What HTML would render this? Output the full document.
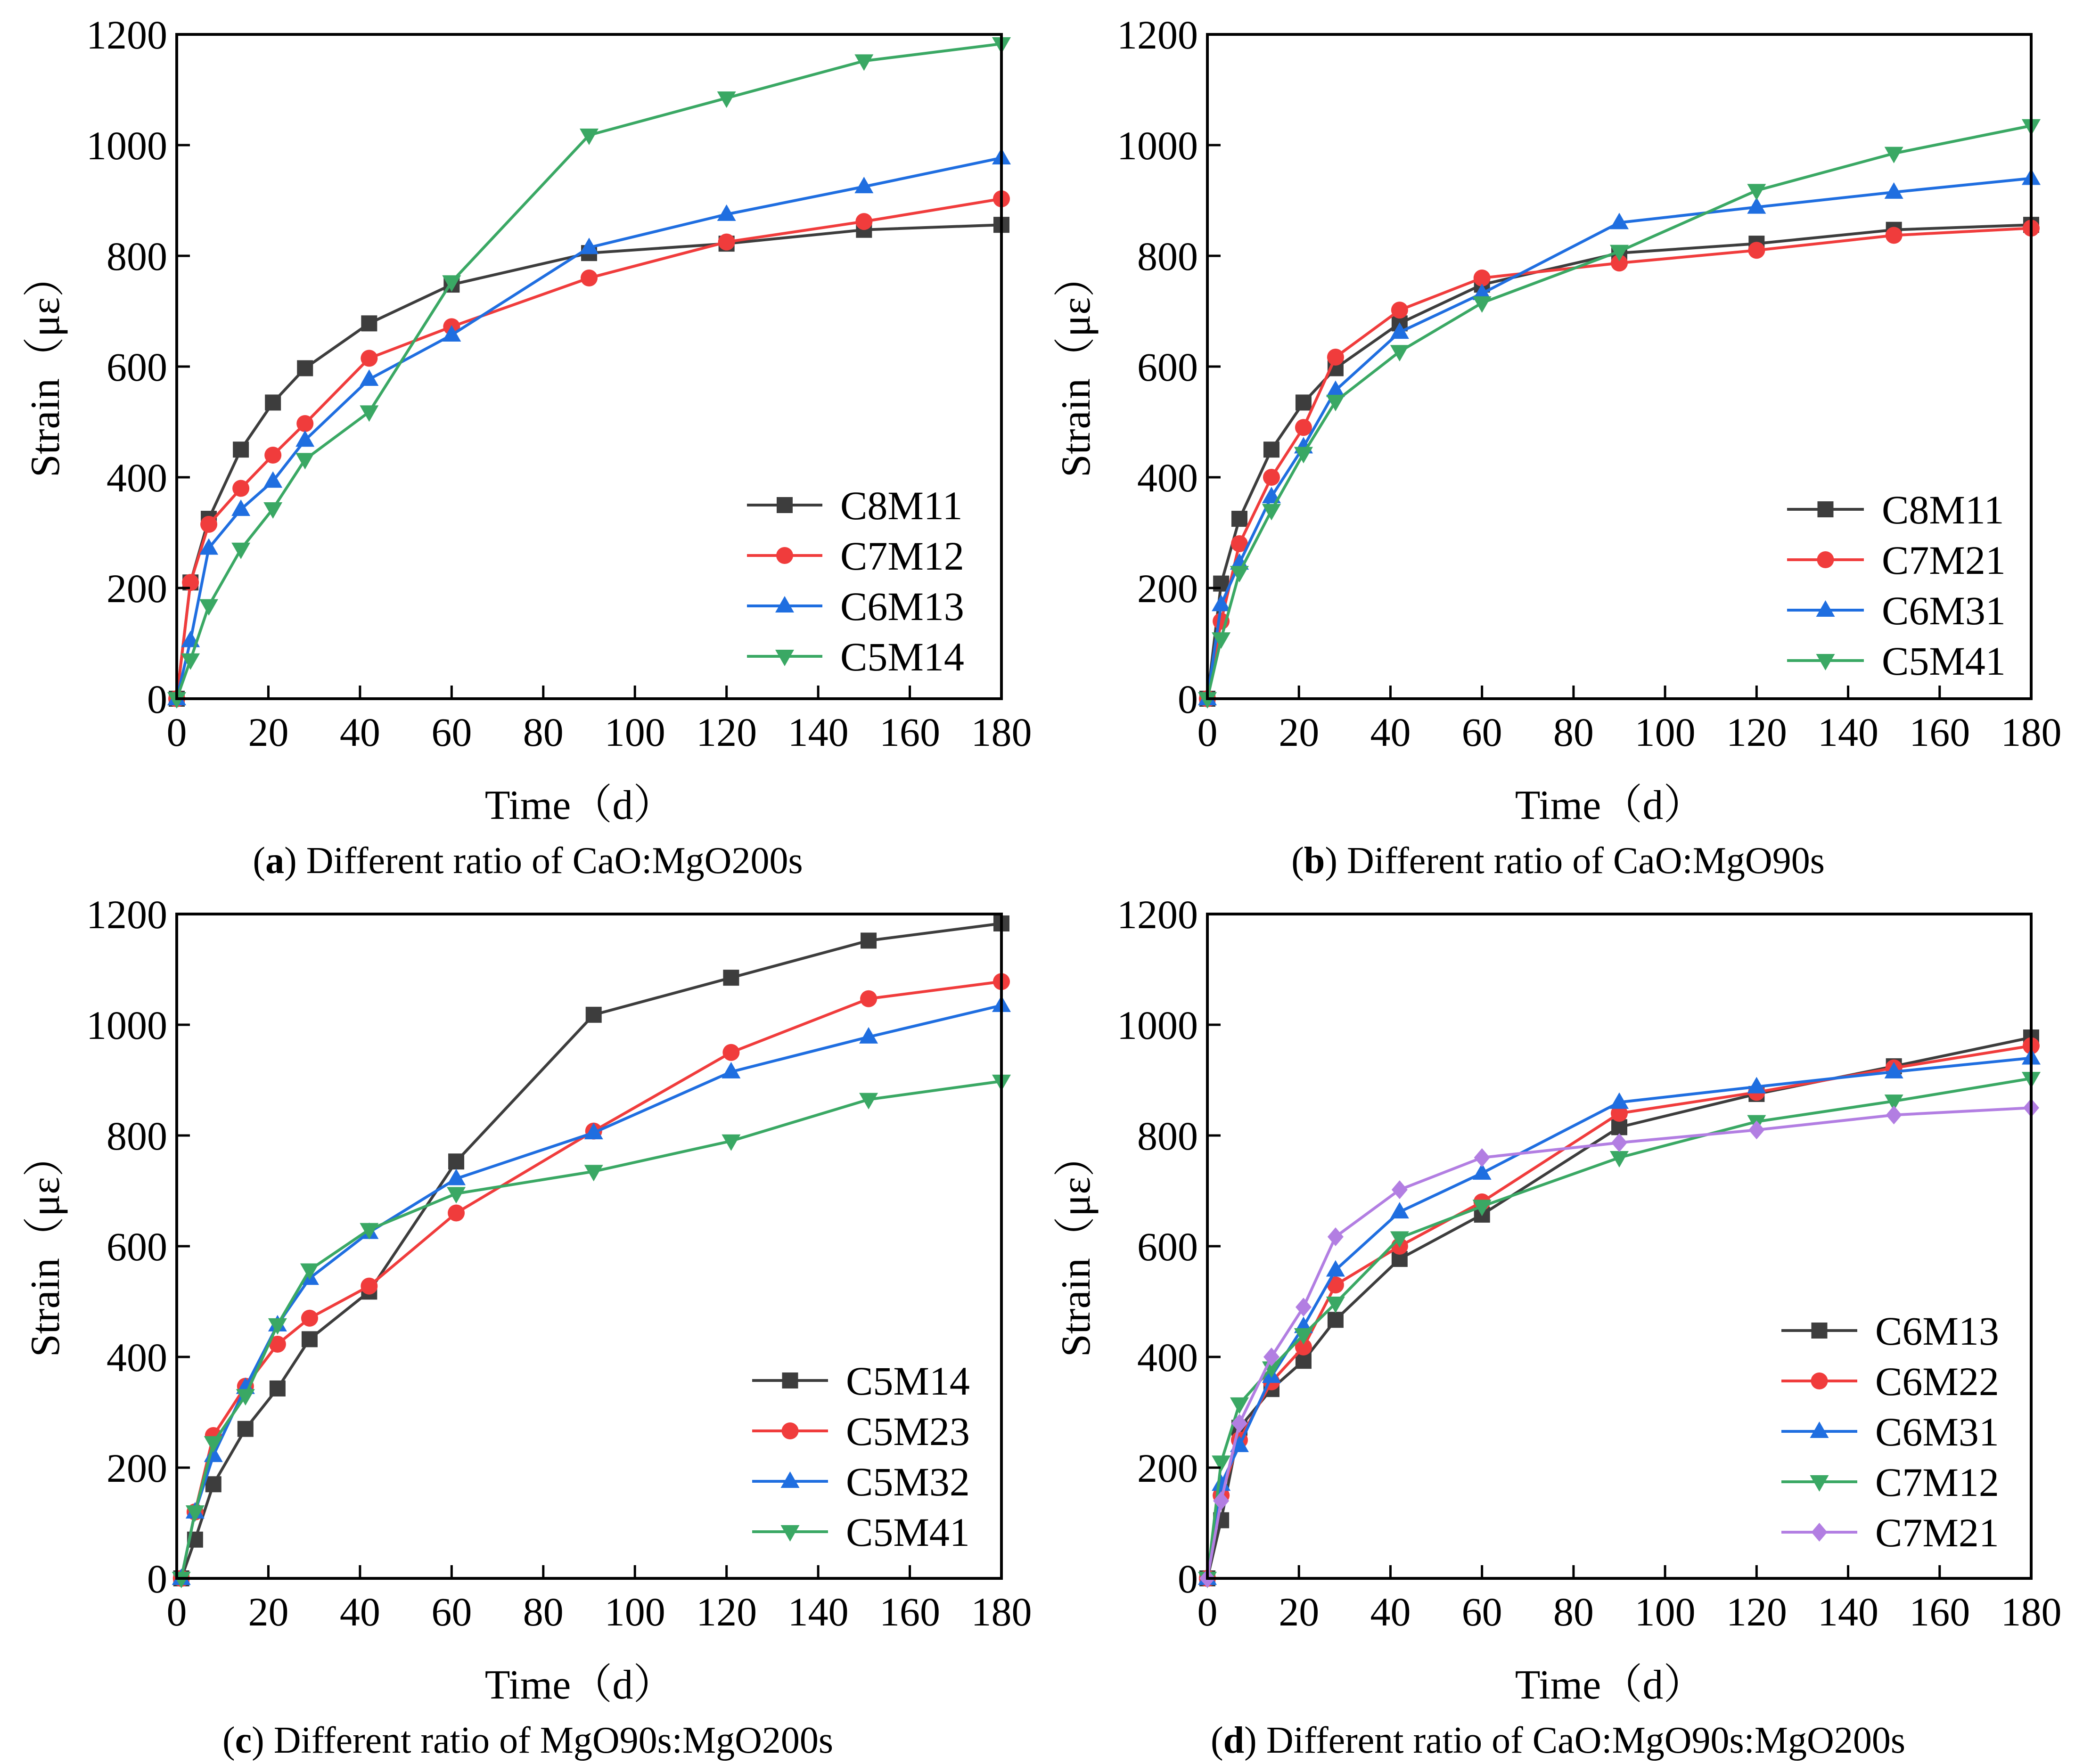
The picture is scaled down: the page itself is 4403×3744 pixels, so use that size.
<!DOCTYPE html>
<html><head><meta charset="utf-8">
<style>
html,body{margin:0;padding:0;background:#fff;}
svg{display:block;}
text{font-family:"Liberation Serif","Times New Roman","Noto Serif CJK SC",serif;}
</style></head>
<body>
<svg id="fig" width="4403" height="3744" viewBox="0 0 4403 3744" xmlns="http://www.w3.org/2000/svg"></svg>
<script>
const days = [0,3,7,14,21,28,42,60,90,120,150,180];
const daysC = [1,4,8,15,22,29,42,61,91,121,151,180];
const xTicks = [0,20,40,60,80,100,120,140,160,180];
const yTicks = [0,200,400,600,800,1000,1200];

const aC8M11 = [0,210,325,450,535,597,678,748,805,822,847,856];
const aC7M12 = [0,210,315,380,440,497,615,672,760,825,862,903];
const aC6M13 = [0,105,272,342,393,467,577,657,815,875,925,977];
const aC5M14 = [0,70,168,270,343,432,518,753,1018,1085,1152,1183];

const bC8M11 = [0,208,325,450,535,597,678,748,805,822,847,856];
const bC7M21 = [0,140,280,400,490,617,702,760,787,810,837,850];
const bC6M31 = [0,170,245,365,455,557,662,732,860,888,915,940];
const bC5M41 = [0,108,228,340,443,537,627,715,808,918,985,1035];

const cC5M14 = [0,70,170,270,343,432,518,753,1018,1085,1152,1183];
const cC5M23 = [0,120,258,347,423,470,528,660,808,950,1047,1078];
const cC5M32 = [0,120,222,345,458,542,625,722,805,915,978,1035];
const cC5M41 = [0,120,245,330,458,557,630,695,735,790,865,898];

const dC6M13 = [0,105,272,342,393,467,577,657,815,875,925,977];
const dC6M22 = [0,150,250,355,418,530,600,680,840,878,922,962];
const dC6M31 = [0,170,240,365,455,557,662,732,860,888,915,940];
const dC7M12 = [0,210,315,380,440,497,615,672,760,825,862,903];
const dC7M21 = [0,140,280,400,490,617,702,760,787,810,837,850];

const COL = {k:'#3d3d3d', r:'#f03c3c', b:'#1f6ee0', g:'#3aa864', p:'#b27ee2'};
const FF = '"Liberation Serif","Noto Serif CJK SC",serif';
const NS = 'http://www.w3.org/2000/svg';
const svg = document.getElementById('fig');
function mk(tag, attrs, parent){
  const e = document.createElementNS(NS, tag);
  for (const k in attrs) e.setAttribute(k, attrs[k]);
  if (tag==='text') e.setAttribute('font-family', FF);
  (parent||svg).appendChild(e);
  return e;
}
function marker(g, shape, x, y, color){
  let e;
  if (shape==='sq') e = mk('rect',{x:x-17,y:y-17,width:34,height:34,fill:color},g);
  else if (shape==='ci') e = mk('circle',{cx:x,cy:y,r:18,fill:color},g);
  else if (shape==='up') e = mk('polygon',{points:`${x},${y-21} ${x-20},${y+14} ${x+20},${y+14}`,fill:color},g);
  else if (shape==='dn') e = mk('polygon',{points:`${x},${y+21} ${x-20},${y-14} ${x+20},${y-14}`,fill:color},g);
  else e = mk('polygon',{points:`${x},${y-20} ${x+17},${y} ${x},${y+20} ${x-17},${y}`,fill:color},g);
  
  
}
function panel(id, L, R, B, T, xs, series, leg, caption, capBold){
  const g = mk('g',{});
  
  
  const sx = v => L + (R-L)*v/180;
  const sy = v => B - (B-T)*v/1200;
  series.forEach(s=>{
    const sg = mk('g',{},g);
    
    
    const pts = s.data.map((v,i)=>sx(xs[i])+','+sy(v)).join(' ');
    const pl = mk('polyline',{points:pts,fill:'none',stroke:s.color,'stroke-width':6,'stroke-linejoin':'round'},sg);
    
    
    s.data.forEach((v,i)=>marker(sg,s.shape,sx(xs[i]),sy(v),s.color));
  });
  const fr = mk('rect',{x:L,y:T,width:R-L,height:B-T,fill:'none',stroke:'#000','stroke-width':6},g);
  
  
  xTicks.forEach(t=>{
    const x=sx(t);
    const tk = mk('line',{x1:x,y1:B,x2:x,y2:B-28,stroke:'#000','stroke-width':5},g);
    
    
    const tx = mk('text',{x:x,y:B+100,'text-anchor':'middle','font-size':86},g);
    tx.textContent = t;
    
    
  });
  yTicks.forEach(t=>{
    const y=sy(t);
    const tk = mk('line',{x1:L,y1:y,x2:L+28,y2:y,stroke:'#000','stroke-width':5},g);
    
    
    const tx = mk('text',{x:L-20,y:y+30,'text-anchor':'end','font-size':86},g);
    tx.textContent = t;
    
    
  });
  const yl = mk('text',{x:0,y:0,'text-anchor':'middle','font-size':88,transform:`translate(${L-250},${(B+T)/2}) rotate(-90)`},g);
  yl.textContent = 'Strain（με）';
  
  
  const xl = mk('text',{x:(L+R)/2 - 20,y:B+255,'text-anchor':'middle','font-size':88},g);
  xl.textContent = 'Time（d）';
  
  
  const cp = mk('text',{x:(L+R)/2 - 130,y:B+370,'text-anchor':'middle','font-size':80},g);
  
  
  const t1 = mk('tspan',{},cp); t1.textContent='(';
  const t2 = mk('tspan',{'font-weight':'bold'},cp); t2.textContent=capBold;
  const t3 = mk('tspan',{},cp); t3.textContent=') '+caption;
  const lg = mk('g',{},g);
  
  
  series.forEach((s,i)=>{
    const y = leg.y + i*leg.dy;
    const e = mk('g',{},lg);
    
    
    mk('line',{x1:leg.x1,y1:y,x2:leg.x2,y2:y,stroke:s.color,'stroke-width':6},e);
    marker(e,s.shape,(leg.x1+leg.x2)/2,y,s.color);
    const tx = mk('text',{x:leg.x2+38,y:y+30,'font-size':86},e);
    tx.textContent = s.name;
  });
}
const yA={B:1483,T:73}, yC={B:3350,T:1940};
panel('a',375,2125,yA.B,yA.T,days,[
 {name:'C8M11',data:aC8M11,color:COL.k,shape:'sq'},
 {name:'C7M12',data:aC7M12,color:COL.r,shape:'ci'},
 {name:'C6M13',data:aC6M13,color:COL.b,shape:'up'},
 {name:'C5M14',data:aC5M14,color:COL.g,shape:'dn'}],
 {x1:1585,x2:1745,y:1072,dy:107},'Different ratio of CaO:MgO200s','a');
panel('b',2562,4310,yA.B,yA.T,days,[
 {name:'C8M11',data:bC8M11,color:COL.k,shape:'sq'},
 {name:'C7M21',data:bC7M21,color:COL.r,shape:'ci'},
 {name:'C6M31',data:bC6M31,color:COL.b,shape:'up'},
 {name:'C5M41',data:bC5M41,color:COL.g,shape:'dn'}],
 {x1:3792,x2:3955,y:1081,dy:107},'Different ratio of CaO:MgO90s','b');
panel('c',375,2125,yC.B,yC.T,daysC,[
 {name:'C5M14',data:cC5M14,color:COL.k,shape:'sq'},
 {name:'C5M23',data:cC5M23,color:COL.r,shape:'ci'},
 {name:'C5M32',data:cC5M32,color:COL.b,shape:'up'},
 {name:'C5M41',data:cC5M41,color:COL.g,shape:'dn'}],
 {x1:1596,x2:1757,y:2930,dy:107},'Different ratio of MgO90s:MgO200s','c');
panel('d',2562,4310,yC.B,yC.T,days,[
 {name:'C6M13',data:dC6M13,color:COL.k,shape:'sq'},
 {name:'C6M22',data:dC6M22,color:COL.r,shape:'ci'},
 {name:'C6M31',data:dC6M31,color:COL.b,shape:'up'},
 {name:'C7M12',data:dC7M12,color:COL.g,shape:'dn'},
 {name:'C7M21',data:dC7M21,color:COL.p,shape:'di'}],
 {x1:3780,x2:3941,y:2824,dy:107},'Different ratio of CaO:MgO90s:MgO200s','d');
</script>
</body></html>
